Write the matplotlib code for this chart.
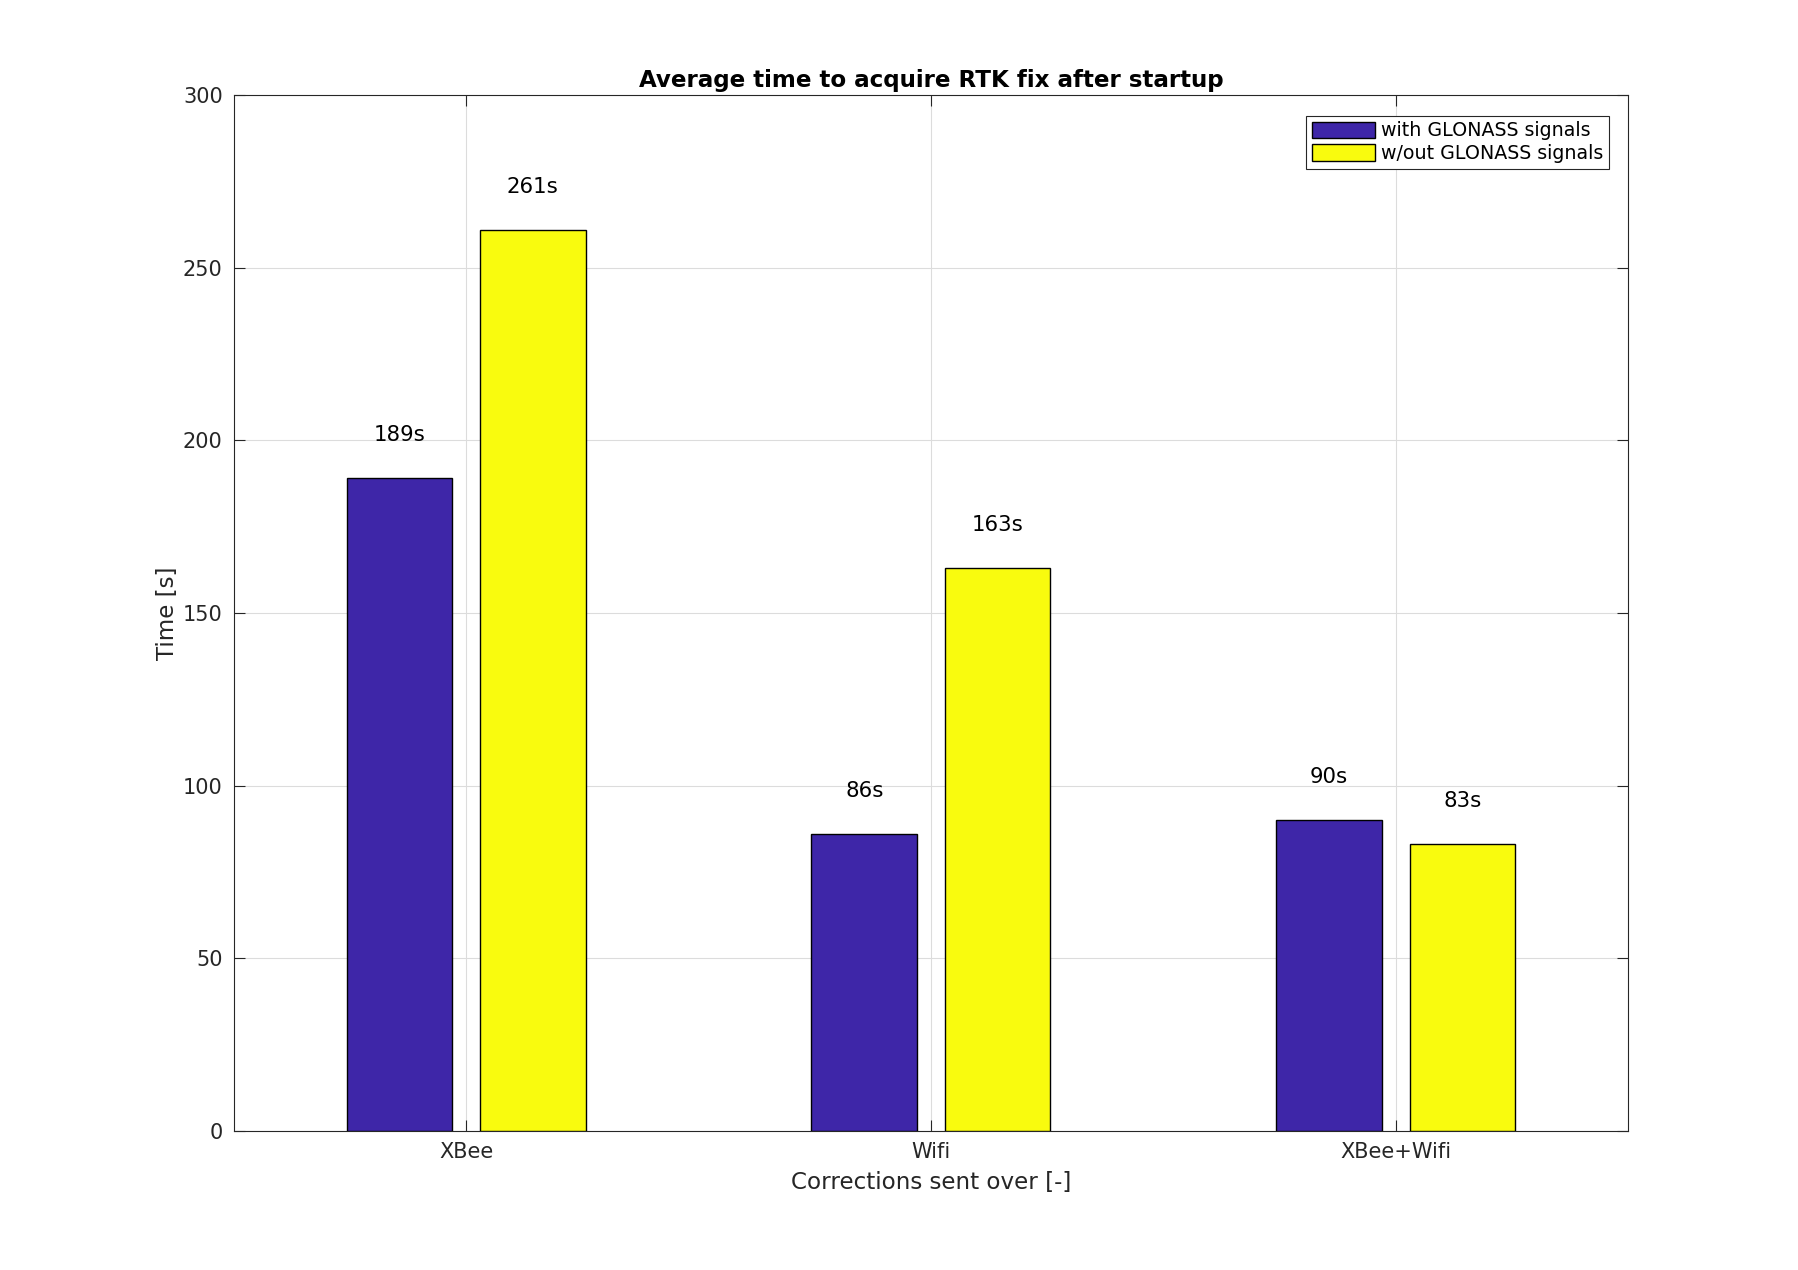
import numpy as np
import matplotlib
matplotlib.use("Agg")
import matplotlib.pyplot as plt

categories = ["XBee", "Wifi", "XBee+Wifi"]
with_glonass = [189, 86, 90]
without_glonass = [261, 163, 83]
series_names = ["with GLONASS signals", "w/out GLONASS signals"]

blue = "#3e26a8"
yellow = "#f9fb0e"
axcol = "#262626"

plt.rcParams["font.family"] = ["DejaVu Sans"]

fig = plt.figure(figsize=(17.98, 12.70), dpi=100)
ax = fig.add_axes([0.130, 0.1094, 0.7755, 0.8158])

x = np.arange(1, len(categories) + 1)
w = 0.227
off = 0.1435
ax.bar(x - off, with_glonass, w, color=blue, edgecolor="black", linewidth=1.0,
       label=series_names[0], zorder=3)
ax.bar(x + off, without_glonass, w, color=yellow, edgecolor="black", linewidth=1.0,
       label=series_names[1], zorder=3)

# value labels above bars
for xs, vals in ((x - off, with_glonass), (x + off, without_glonass)):
    for xi, v in zip(xs, vals):
        ax.text(xi, v + 12.5, f"{v}s", ha="center", va="center", fontsize=15.3, color="black")

ax.set_xlim(0.5, 3.5)
ax.set_ylim(0, 300)
ax.set_xticks(x)
ax.set_xticklabels(categories)
ax.set_yticks(np.arange(0, 301, 50))
ax.grid(True, color="#dcdcdc", linewidth=0.8, zorder=0)
ax.set_axisbelow(True)
ax.tick_params(direction="in", top=True, right=True, length=8, width=0.8,
               labelsize=15, colors=axcol, labelcolor=axcol, pad=8)
for s in ax.spines.values():
    s.set_color(axcol)
    s.set_linewidth(0.8)

ax.set_title("Average time to acquire RTK fix after startup", fontsize=16.6,
             fontweight="bold", pad=6)
ax.set_xlabel("Corrections sent over [-]", fontsize=16.6, color=axcol, labelpad=6)
ax.set_ylabel("Time [s]", fontsize=16.6, color=axcol, labelpad=3)

leg = ax.legend(loc="upper right", fontsize=13.7, frameon=True, fancybox=False,
                edgecolor=axcol, framealpha=1, borderpad=0.3, handlelength=3.3,
                handleheight=0.95, handletextpad=0.3, labelspacing=0.2,
                borderaxespad=0.0, bbox_to_anchor=(0.986, 0.98))
leg.get_frame().set_linewidth(0.8)

fig.savefig("out.png", dpi=100, facecolor="white")
